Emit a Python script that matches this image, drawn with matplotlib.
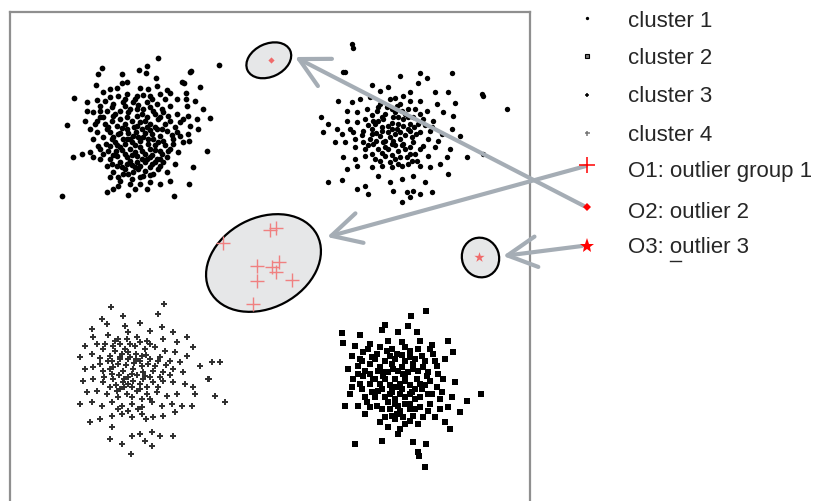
import matplotlib.pyplot as plt
import numpy as np
from matplotlib.patches import Ellipse

plt.rcParams['font.family'] = ['Liberation Sans', 'DejaVu Sans']

# point clouds (x, y in picture pixels, y grows downward)
cluster1 = [
    (158, 59), (219, 66), (102, 69), (147, 67), (139, 71), (98, 75), (122, 75), (190, 73),
    (146, 74), (156, 79), (182, 83), (184, 84), (127, 83), (122, 84), (96, 86), (157, 87),
    (200, 88), (110, 90), (117, 89), (140, 89), (148, 90), (167, 91), (103, 93), (186, 94),
    (74, 99), (87, 103), (97, 101), (110, 98), (127, 95), (137, 97), (150, 97), (160, 95),
    (170, 94), (177, 100), (186, 100), (195, 102), (100, 107), (113, 105), (123, 103), (133, 103),
    (147, 103), (157, 105), (170, 107), (187, 107), (203, 110), (87, 112), (93, 113), (107, 112),
    (120, 112), (130, 110), (143, 110), (153, 112), (163, 113), (177, 115), (188, 117), (197, 120),
    (210, 119), (67, 126), (85, 122), (90, 130), (97, 122), (103, 118), (113, 117), (127, 118),
    (137, 117), (147, 118), (158, 120), (170, 122), (180, 123), (190, 127), (198, 130), (97, 133),
    (107, 130), (117, 127), (127, 130), (137, 127), (147, 128), (157, 130), (167, 132), (177, 133),
    (188, 135), (93, 140), (103, 138), (113, 138), (123, 140), (133, 137), (143, 138), (153, 140),
    (163, 142), (173, 140), (183, 143), (189, 142), (73, 158), (82, 155), (90, 153), (93, 158),
    (100, 150), (110, 147), (120, 148), (130, 150), (140, 148), (150, 150), (160, 152), (170, 150),
    (178, 153), (207, 152), (100, 160), (110, 160), (117, 157), (127, 158), (137, 157), (147, 160),
    (157, 160), (167, 158), (107, 167), (117, 167), (127, 165), (140, 167), (150, 168), (160, 167),
    (175, 165), (193, 168), (113, 173), (123, 175), (133, 173), (143, 177), (153, 175), (167, 173),
    (110, 178), (120, 182), (132, 180), (140, 185), (150, 183), (160, 185), (170, 182), (189, 185),
    (113, 190), (107, 193), (128, 196), (147, 190), (174, 197), (62, 197), (191, 72),
    (105, 125), (112, 122), (120, 120), (125, 125), (132, 122), (140, 123), (150, 125), (155, 128),
    (110, 133), (118, 135), (128, 134), (136, 133), (145, 134), (152, 135), (160, 137), (106, 145),
    (115, 143), (125, 145), (132, 143), (140, 142), (148, 145), (155, 146), (165, 146), (108, 152),
    (116, 152), (125, 155), (135, 153), (145, 155), (152, 156), (162, 155), (120, 163), (130, 162),
    (137, 163), (145, 163), (155, 163), (125, 170), (135, 168), (145, 172), (158, 170), (100, 118),
    (95, 125), (160, 118), (165, 125), (175, 128), (180, 137), (173, 145), (105, 102), (118, 97),
    (135, 100), (143, 96), (152, 100), (165, 100), (130, 185), (135, 190), (118, 187),
    (112, 108), (125, 107), (138, 106), (150, 108), (162, 110), (100, 112), (115, 115), (128, 113),
    (142, 115), (155, 115), (168, 117), (183, 120), (108, 128), (122, 129), (134, 128), (142, 130),
    (150, 131), (162, 130), (172, 136), (98, 147), (112, 140), (120, 134), (130, 140), (138, 138),
    (148, 140), (158, 143), (168, 152), (103, 155), (113, 156), (122, 151), (132, 156), (142, 152),
    (150, 158), (160, 160), (112, 165), (122, 168), (132, 166), (142, 160), (152, 165), (163, 163),
    (118, 178), (128, 175), (140, 178), (150, 176), (138, 170), (127, 140), (117, 146), (135, 146),
    (155, 151), (145, 122), (125, 100), (137, 110),
]

cluster2 = [
    (426, 312), (411, 317), (342, 334), (360, 336), (385, 326), (382, 331), (408, 327), (398, 333),
    (417, 333), (343, 344), (355, 347), (370, 345), (388, 342), (402, 343), (420, 342), (432, 346),
    (448, 342), (453, 353), (352, 357), (363, 353), (377, 355), (387, 352), (397, 355), (410, 352),
    (422, 357), (433, 355), (445, 360), (348, 370), (358, 367), (370, 365), (380, 368), (392, 365),
    (402, 368), (413, 365), (423, 368), (437, 367), (353, 380), (363, 377), (373, 380), (383, 377),
    (395, 380), (405, 378), (417, 380), (427, 377), (443, 380), (455, 383), (350, 395), (362, 390),
    (372, 393), (382, 390), (392, 393), (402, 390), (412, 393), (422, 390), (432, 395), (442, 393),
    (452, 398), (467, 402), (481, 395), (345, 407), (358, 407), (367, 403), (377, 407), (388, 403),
    (398, 407), (410, 405), (420, 408), (430, 405), (440, 410), (448, 408), (460, 413), (365, 415),
    (380, 423), (392, 417), (403, 418), (413, 417), (423, 418), (435, 418), (445, 423), (450, 430),
    (388, 428), (398, 435), (410, 422), (355, 445), (382, 442), (413, 443), (426, 445), (418, 453),
    (419, 457), (425, 468),
    (375, 360), (385, 362), (395, 360), (405, 362), (415, 360), (378, 372), (388, 373), (398, 372),
    (408, 373), (418, 372), (370, 385), (380, 385), (390, 386), (400, 385), (410, 386), (420, 385),
    (375, 398), (385, 398), (395, 400), (405, 398), (415, 400), (390, 410), (400, 412), (410, 410),
    (395, 420), (405, 425), (365, 372), (430, 382), (428, 395), (360, 360),
    (368, 350), (380, 348), (392, 350), (405, 348), (418, 350), (430, 350), (362, 362), (372, 358),
    (390, 357), (402, 356), (410, 358), (425, 362), (435, 362), (358, 375), (370, 375), (383, 373),
    (393, 370), (403, 375), (413, 370), (428, 373), (438, 375), (360, 385), (375, 380), (385, 380),
    (396, 388), (405, 382), (415, 390), (425, 386), (437, 388), (365, 398), (378, 392), (390, 395),
    (400, 395), (410, 395), (420, 398), (440, 400), (370, 408), (382, 410), (395, 405), (405, 405),
    (415, 410), (428, 412), (385, 418), (397, 415), (418, 425), (400, 430), (392, 390), (352, 388),
]

cluster3 = [
    (352, 45), (353, 49), (343, 73), (400, 77), (420, 74), (452, 74), (372, 86), (418, 84),
    (427, 79), (482, 95), (507, 110), (380, 92), (388, 88), (410, 93), (435, 93), (448, 93),
    (338, 102), (352, 103), (360, 100), (370, 98), (395, 99), (403, 97), (420, 102), (437, 105),
    (455, 104), (321, 118), (347, 112), (357, 113), (367, 110), (377, 112), (387, 108), (397, 107),
    (408, 110), (427, 112), (443, 113), (453, 117), (328, 125), (337, 130), (347, 122), (357, 123),
    (365, 120), (373, 122), (383, 120), (393, 118), (403, 120), (413, 118), (423, 120), (433, 122),
    (452, 130), (460, 137), (323, 133), (342, 135), (353, 133), (363, 132), (372, 135), (382, 132),
    (392, 130), (400, 133), (410, 132), (420, 133), (430, 132), (442, 135), (335, 143), (345, 143),
    (355, 148), (363, 143), (373, 145), (383, 143), (393, 142), (403, 145), (413, 143), (423, 147),
    (435, 148), (450, 150), (467, 158), (483, 155), (343, 158), (355, 160), (365, 157), (375, 160),
    (385, 157), (395, 160), (407, 158), (417, 162), (428, 157), (440, 165), (447, 158), (347, 170),
    (357, 167), (372, 168), (382, 167), (392, 168), (402, 167), (408, 165), (420, 167), (430, 168),
    (448, 175), (328, 183), (342, 181), (365, 187), (378, 177), (390, 183), (402, 180), (413, 177),
    (425, 183), (357, 190), (368, 195), (393, 192), (407, 193), (413, 192), (420, 195), (432, 193),
    (402, 203), (410, 198), (345, 73), (483, 97),
    (385, 115), (395, 113), (405, 115), (375, 125), (388, 127), (398, 125), (410, 125), (380, 137),
    (390, 138), (400, 140), (412, 138), (370, 140), (378, 150), (388, 150), (398, 152), (405, 150),
    (415, 155), (392, 145), (382, 128), (372, 130), (408, 130), (395, 135), (385, 142), (418, 125),
    (365, 150), (400, 105), (390, 100), (410, 102), (380, 105),
    (378, 108), (392, 110), (402, 112), (415, 110), (372, 116), (382, 118), (398, 118), (408, 118),
    (420, 115), (368, 126), (378, 122), (392, 124), (403, 127), (414, 128), (425, 126), (362, 136),
    (376, 134), (388, 133), (397, 130), (405, 136), (416, 135), (428, 140), (368, 146), (376, 142),
    (385, 148), (395, 146), (402, 146), (410, 148), (420, 150), (372, 155), (382, 154), (392, 156),
    (400, 158), (410, 155), (380, 162), (390, 163), (398, 165), (412, 162), (350, 130), (355, 140),
    (432, 128), (438, 142),
]

cluster4 = [
    (111, 308), (164, 305), (158, 315), (123, 317), (102, 320), (140, 324), (107, 325), (125, 327),
    (92, 330), (128, 333), (150, 332), (162, 328), (173, 333), (187, 338), (93, 338), (108, 336),
    (118, 340), (137, 338), (147, 342), (163, 340), (177, 343), (193, 348), (85, 347), (97, 345),
    (103, 350), (113, 347), (125, 350), (135, 347), (145, 350), (155, 348), (165, 352), (175, 353),
    (187, 357), (80, 358), (92, 355), (100, 359), (110, 357), (120, 360), (130, 358), (140, 362),
    (150, 360), (160, 358), (170, 362), (180, 363), (200, 367), (212, 363), (220, 363), (85, 370),
    (93, 368), (103, 372), (113, 368), (123, 372), (133, 370), (143, 373), (153, 372), (163, 373),
    (173, 370), (183, 373), (208, 380), (83, 382), (93, 380), (103, 383), (113, 380), (123, 383),
    (133, 382), (143, 380), (153, 383), (163, 382), (173, 383), (185, 385), (193, 388), (87, 393),
    (97, 392), (107, 395), (117, 392), (127, 395), (137, 392), (147, 395), (157, 393), (167, 397),
    (177, 395), (195, 395), (215, 397), (225, 403), (80, 405), (92, 403), (102, 407), (112, 403),
    (122, 407), (132, 405), (142, 408), (152, 403), (162, 407), (172, 405), (182, 407), (192, 407),
    (90, 423), (100, 420), (112, 417), (122, 415), (132, 418), (142, 415), (153, 418), (163, 417),
    (175, 413), (112, 428), (132, 437), (140, 435), (152, 433), (160, 437), (173, 437), (110, 440),
    (122, 445), (145, 442), (152, 447), (131, 455), (209, 380),
    (115, 352), (122, 355), (128, 353), (136, 355), (142, 357), (118, 365), (126, 366), (134, 364),
    (142, 367), (148, 365), (110, 370), (119, 376), (128, 378), (137, 376), (145, 377), (124, 388),
    (132, 388), (140, 390), (116, 386), (108, 362), (155, 367), (130, 345), (120, 345),
    (105, 345), (115, 342), (127, 340), (140, 343), (150, 345), (100, 365), (112, 362), (120, 358),
    (128, 360), (136, 360), (146, 356), (158, 362), (166, 366), (104, 378), (112, 375), (124, 380),
    (132, 375), (140, 385), (150, 378), (160, 378), (170, 376), (110, 388), (120, 390), (128, 385),
    (147, 388), (158, 388), (118, 398), (132, 398), (142, 400), (150, 400), (128, 412), (138, 410),
    (146, 420), (118, 410),
]

outliers1 = [(270, 231), (276, 229), (223, 244), (257, 267), (272, 268), (279, 263),
             (276, 273), (257, 282), (292, 281), (253, 305)]
outlier2 = [(270.5, 61)]
outlier3 = [(479, 258)]

labels = ['cluster 1', 'cluster 2', 'cluster 3', 'cluster 4',
          'O1: outlier group 1', 'O2: outlier 2', 'O3: outlier 3']

fig = plt.figure(figsize=(8.17, 5.02), dpi=100)

# main box, data space in picture pixels
ax = fig.add_axes([10 / 817, -30 / 502, 520 / 817, (502 - 12.5 + 30) / 502])
ax.set_xlim(10, 530)
ax.set_ylim(532, 12.5)
ax.set_xticks([])
ax.set_yticks([])
for sp in ax.spines.values():
    sp.set_color('#8f8f8f')
    sp.set_linewidth(1.6)

# outlier regions
for (cx, cy), w, h, ang in [((268.8, 61.3), 47, 33, -25),
                            ((263.5, 264), 121, 90, -28),
                            ((480.5, 258.5), 37, 40, -20)]:
    ax.add_patch(Ellipse((cx, cy), w, h, angle=ang, facecolor='#e6e7e8',
                         edgecolor='black', lw=1.6, zorder=1))

def xy(pts):
    a = np.array(pts, dtype=float)
    return a[:, 0], a[:, 1]

ax.scatter(*xy(cluster1), s=17, marker='o', color='black', lw=0, zorder=2)
ax.scatter(*xy(cluster2), s=20, marker='s', color='black', lw=0, zorder=2)
ax.scatter(*xy(cluster3), s=15, marker='o', color='black', lw=0, zorder=2)
ax.scatter(*xy(cluster4), s=22, marker='+', color='#2e2e2e', lw=1.4, zorder=2)
ax.scatter(*xy(outliers1), s=110, marker='+', color='#f08080', lw=1.0, zorder=3)
ax.scatter(*xy(outlier2), s=10, marker='D', color='#f06a6a', lw=0, zorder=3)
ax.scatter(*xy(outlier3), s=60, marker='*', color='#f06a6a', lw=0, zorder=3)

# overlay in picture pixels for legend and arrows
ov = fig.add_axes([0, 0, 1, 1])
ov.set_xlim(0, 817)
ov.set_ylim(502, 0)
ov.axis('off')
ov.patch.set_alpha(0)

arrow_col = '#a5adb5'
head = '->,head_length=2.1,head_width=1.1'
for start, tip in [((584, 207), (295, 58)),
                   ((586, 167), (327, 238)),
                   ((582, 247), (503, 257))]:
    ov.annotate('', xy=tip, xytext=start,
                arrowprops=dict(arrowstyle=head, lw=3.0, color=arrow_col,
                                shrinkA=0, shrinkB=0))

marker_y = [18.5, 57, 96, 134, 166, 208, 246.5]
text_y = [21.5, 58.5, 97, 135.5, 172, 213, 248]
styles = [dict(marker='o', ms=2.4, color='black', mew=0),
          dict(marker='s', ms=3.4, mfc='#777777', mec='black', mew=0.8),
          dict(marker='+', ms=3.2, color='black', mew=1.1),
          dict(marker='+', ms=3.6, color='#777777', mew=1.1),
          dict(marker='+', ms=11, color='red', mew=1.1),
          dict(marker='D', ms=4, color='red', mew=0),
          dict(marker='*', ms=11, color='red', mew=0)]
for lab, my, ty, st in zip(labels, marker_y, text_y, styles):
    ov.plot([587], [my], ls='none', zorder=5, **st)
    ov.text(628, ty, lab, fontsize=16, color='#262626', va='center', ha='left')

# the underlined "o" in the last label
ov.plot([670, 681], [262, 262], color='#262626', lw=1.0)

fig.savefig('out.png', dpi=100)
